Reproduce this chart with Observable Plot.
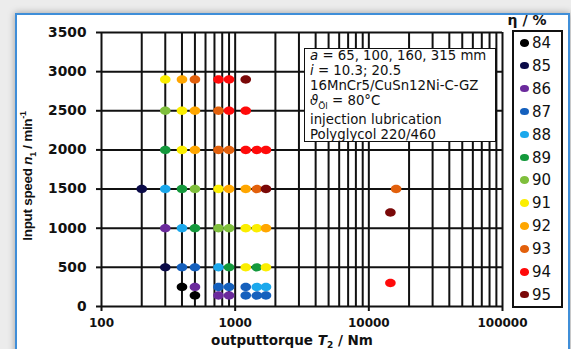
<!DOCTYPE html>
<html>
<head>
<meta charset="utf-8">
<script src="https://cdn.jsdelivr.net/npm/d3@7"></script>
<script src="https://cdn.jsdelivr.net/npm/@observablehq/plot@0.6"></script>
<style>
  html, body { margin: 0; padding: 0; background: #ececec; }
  #wrap { position: relative; width: 571px; height: 349px; overflow: hidden; background: #ececec; }
  #card { position: absolute; left: 15px; top: 13px; width: 551px; height: 345px; background: #fff;
          border: 2px solid #3f8ed8; box-shadow: 0 0 7px rgba(0,0,0,0.35); }
  #chart { position: absolute; left: 0; top: 0; }
  .note { position: absolute; left: 304px; top: 48px; width: 190px; height: 92px; background: #fff;
          border: 1.5px solid #111; font-family: "DejaVu Sans", sans-serif; font-size: 13.3px; color: #111; }
  .note div { position: absolute; left: 5px; white-space: nowrap; line-height: 15px; }
  .ylab { position: absolute; left: 28px; top: 176px; transform: translate(-50%, -50%) rotate(-90deg);
          font-family: "Liberation Sans", Arial, sans-serif; font-weight: bold; font-size: 13.5px; white-space: nowrap; color: #111; letter-spacing: -0.3px; }
  .xlab { position: absolute; left: 292px; top: 341px; transform: translate(-50%, -50%);
          font-family: "DejaVu Sans", sans-serif; font-weight: bold; font-size: 13.5px; white-space: nowrap; color: #111; }
  .legtitle { position: absolute; left: 527px; top: 20px; transform: translate(-50%, -50%);
          font-family: "DejaVu Sans", sans-serif; font-weight: bold; font-size: 14px; white-space: nowrap; color: #111; }
  .legbox { position: absolute; left: 512px; top: 30px; width: 47px; height: 274px; border: 2px solid #111; background: #fff; }
  .legrow { position: absolute; left: 0; height: 20px; line-height: 20px; font-family: "DejaVu Sans", sans-serif; font-size: 15px; color: #111; white-space: nowrap; }
  .legdot { position: absolute; left: 6px; top: 6px; width: 9px; height: 7.5px; border-radius: 50%; }
  .legtxt { position: absolute; left: 18px; top: 0; }
</style>
</head>
<body>
<div id="wrap">
  <div id="card"></div>
  <div id="chart"></div>
  <div class="ylab">Input speed <i>n</i><sub style="font-size:9px">1</sub> / min<sup style="font-size:9px">-1</sup></div>
  <div class="xlab">outputtorque <i>T</i><sub style="font-size:9px">2</sub> / Nm</div>
  <div class="note">
    <div style="top:-1px"><i>a</i> = 65, 100, 160, 315 mm</div>
    <div style="top:14px"><i>i</i> = 10.3; 20.5</div>
    <div style="top:29px">16MnCr5/CuSn12Ni-C-GZ</div>
    <div style="top:44px"><i>ϑ</i><sub style="font-size:9px">Öl</sub> = 80°C</div>
    <div style="top:63px">injection lubrication</div>
    <div style="top:78px">Polyglycol 220/460</div>
  </div>
  <div class="legtitle">η / %</div>
  <div class="legbox" id="legend"></div>
</div>
<script>
// ---- data ----
const etaLevels = [84, 85, 86, 87, 88, 89, 90, 91, 92, 93, 94, 95];
const etaColors = ["#000000", "#0b0b48", "#6b2a9c", "#1560bd", "#1ba8ec", "#14993c",
                   "#7fbf3c", "#fbee00", "#ffa600", "#e2600c", "#ff0a0a", "#7a0808"];

const speedRows = [2900, 2500, 2000, 1500, 1000, 500, 250, 140];
const torqueRows = [
  [300, 400, 500, 750, 900, 1200],
  [300, 400, 500, 750, 900, 1200],
  [300, 400, 500, 750, 900, 1200, 1450, 1700],
  [200, 300, 400, 500, 750, 900, 1200, 1450, 1700],
  [300, 400, 500, 750, 900, 1200, 1450, 1700],
  [300, 400, 500, 750, 900, 1200, 1450, 1700],
  [400, 500, 750, 900, 1200, 1450, 1700],
  [500, 750, 900, 1200, 1450, 1700]
];
const etaRows = [
  [91, 92, 93, 94, 94, 95],
  [90, 91, 92, 93, 94, 94],
  [89, 91, 92, 93, 93, 94, 94, 94],
  [85, 88, 89, 90, 91, 92, 92, 93, 95],
  [86, 88, 89, 90, 90, 91, 91, 92],
  [85, 87, 87, 88, 89, 91, 89, 91],
  [84, 86, 87, 87, 87, 88, 88],
  [84, 86, 86, 87, 87, 87]
];
const largeTorque = [16000, 14500, 14500];
const largeSpeed = [1500, 1200, 300];
const largeEta = [93, 95, 94];

const xTickLabels = [100, 1000, 10000, 100000];
const yTickLabels = [0, 500, 1000, 1500, 2000, 2500, 3000, 3500];

// ---- build table ----
const points = [];
speedRows.forEach((s, i) => torqueRows[i].forEach((t, j) => points.push({torque: t, speed: s, eta: etaRows[i][j]})));
largeTorque.forEach((t, i) => points.push({torque: t, speed: largeSpeed[i], eta: largeEta[i]}));

const xDomain = [100, 100000];
const xGrid = d3.scaleLog().domain(xDomain).ticks();

const ellipse = {
  draw(ctx) {
    const rx = 5.3, ry = 4.2, k = 0.5523;
    ctx.moveTo(rx, 0);
    ctx.bezierCurveTo(rx, ry * k, rx * k, ry, 0, ry);
    ctx.bezierCurveTo(-rx * k, ry, -rx, ry * k, -rx, 0);
    ctx.bezierCurveTo(-rx, -ry * k, -rx * k, -ry, 0, -ry);
    ctx.bezierCurveTo(rx * k, -ry, rx, -ry * k, rx, 0);
    ctx.closePath();
  }
};

const chart = Plot.plot({
  width: 571, height: 349,
  marginLeft: 101, marginRight: 69, marginTop: 32, marginBottom: 43,
  x: {type: "log", domain: xDomain},
  y: {domain: [0, 3500]},
  color: {type: "ordinal", domain: etaLevels, range: etaColors},
  style: {background: "transparent", fontFamily: "DejaVu Sans, sans-serif", color: "#111"},
  marks: [
    Plot.ruleX(xGrid, {stroke: "#111", strokeWidth: 2}),
    Plot.ruleY(yTickLabels, {stroke: "#111", strokeWidth: 2}),
    Plot.axisX(xTickLabels, {tickFormat: d => String(d), tickSize: 5, tickPadding: 7, strokeWidth: 2,
      fontSize: 12, fontWeight: "bold", label: null}),
    Plot.axisY(yTickLabels, {tickFormat: d => String(d), tickSize: 5, tickPadding: 10, strokeWidth: 2,
      fontSize: 13.8, fontWeight: "bold", label: null}),
    Plot.dot(points, {x: "torque", y: "speed", fill: "eta", symbol: ellipse, stroke: null})
  ]
});
document.getElementById("chart").appendChild(chart);

// ---- legend ----
const leg = document.getElementById("legend");
etaLevels.forEach((e, i) => {
  const row = document.createElement("div");
  row.className = "legrow";
  row.style.top = (43 + i * 22.9 - 30 - 2 - 10) + "px";
  const dot = document.createElement("span");
  dot.className = "legdot";
  dot.style.background = etaColors[i];
  const txt = document.createElement("span");
  txt.className = "legtxt";
  txt.textContent = e;
  row.appendChild(dot); row.appendChild(txt);
  leg.appendChild(row);
});
</script>
</body>
</html>
